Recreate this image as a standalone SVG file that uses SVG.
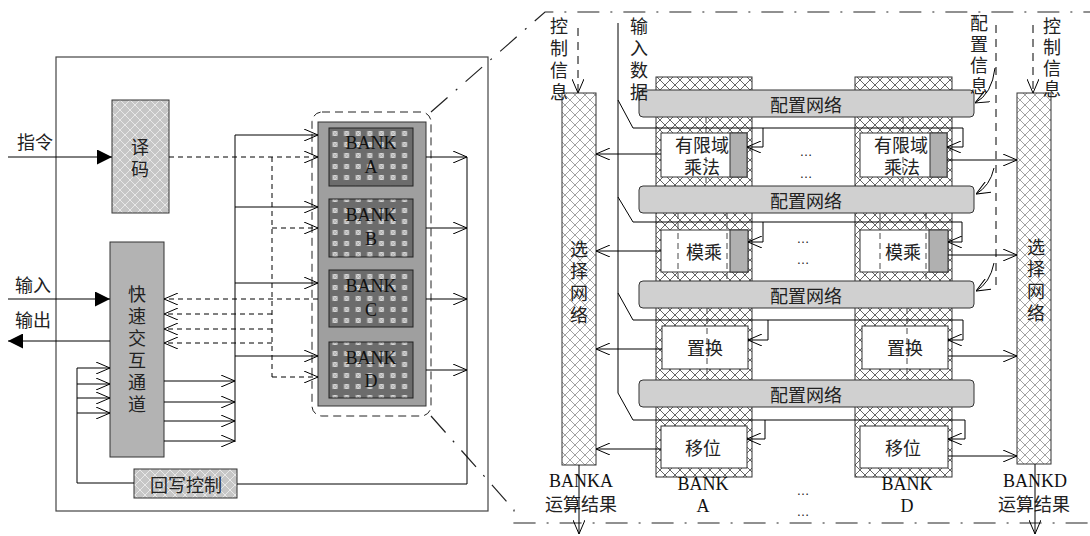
<svg xmlns="http://www.w3.org/2000/svg" width="1090" height="536" viewBox="0 0 1090 536">
<style>
.cn{font-family:"Noto Sans CJK SC","Noto Sans",sans-serif;font-size:18px;fill:#222;text-anchor:middle;dominant-baseline:central}
.en{font-family:"Liberation Serif",serif;font-size:18px;fill:#111;text-anchor:middle}
.ln{fill:none;stroke:#000;stroke-width:1}
.oa{marker-end:url(#oa)}
.fa{marker-end:url(#fa)}
.dsh{stroke-dasharray:5,4}
.dsh2{stroke-dasharray:8,6}
.dd{fill:none;stroke:#222;stroke-width:1.2;stroke-dasharray:22,11,2,11}
.inner{fill:none;stroke:#333;stroke-width:0.9;stroke-dasharray:6,4}
.dots{font-family:"Liberation Sans",sans-serif;font-size:13px;fill:#222;text-anchor:middle}
</style>
<defs>
<marker id="oa" viewBox="0 0 14 12" refX="14" refY="6" markerWidth="14" markerHeight="12" markerUnits="userSpaceOnUse" orient="auto"><path d="M0,0L14,6L0,12" fill="none" stroke="#000" stroke-width="1"/></marker>
<marker id="fa" viewBox="0 0 15 15" refX="15" refY="7.5" markerWidth="15" markerHeight="15" markerUnits="userSpaceOnUse" orient="auto"><path d="M0,0L15,7.5L0,15z" fill="#000"/></marker>
<pattern id="xhLight" width="10" height="10" patternUnits="userSpaceOnUse"><rect width="10" height="10" fill="#fff"/><path d="M0,0L10,10M10,0L0,10" stroke="#8a8a8a" stroke-width="0.8"/></pattern>
<pattern id="xhCol" width="10" height="10" patternUnits="userSpaceOnUse"><rect width="10" height="10" fill="#fff"/><path d="M0,0L10,10M10,0L0,10" stroke="#555" stroke-width="0.9"/></pattern>
<pattern id="xhGray" width="10" height="10" patternUnits="userSpaceOnUse"><rect width="10" height="10" fill="#c6c6c6"/><path d="M0,0L10,10M10,0L0,10" stroke="#e8e8e8" stroke-width="1"/></pattern>
<pattern id="bankDots" x="329" y="128" width="11.6" height="11" patternUnits="userSpaceOnUse"><rect width="11.6" height="11" fill="#6c6c6c"/><rect x="3.5" y="3" width="5" height="5" fill="#d8d8d8"/><path d="M3.5,3L8.5,8M8.5,3L3.5,8" stroke="#888" stroke-width="0.6"/></pattern>
</defs>

<!-- left panel frame -->
<rect x="56" y="57" width="432" height="454" fill="none" stroke="#444" stroke-width="1.2"/>

<!-- zoom border -->
<g id="zoomframe">
<path class="dd" d="M431,112L545,12L1090,12"/>
<path class="dd" d="M431,416L514,510L514,523L1090,523"/>
</g>

<g id="labels-left">
<text class="cn" x="35" y="141">指令</text>
<text class="cn" x="33" y="284">输入</text>
<text class="cn" x="33" y="319">输出</text>
</g>

<g id="decode">
<rect x="112" y="100" width="57" height="113" fill="url(#xhGray)" stroke="#333"/>
<text class="cn" x="140" y="146">译</text>
<text class="cn" x="140" y="168">码</text>
</g>

<g id="fastch">
<rect x="110" y="242" width="54" height="215" fill="#b3b3b3" stroke="#333"/>
<text class="cn" x="137" y="293">快<tspan x="137" dy="22">速</tspan><tspan x="137" dy="22">交</tspan><tspan x="137" dy="22">互</tspan><tspan x="137" dy="22">通</tspan><tspan x="137" dy="22">道</tspan></text>
</g>

<g id="writeback">
<rect x="134" y="469" width="103" height="29" fill="url(#xhGray)" stroke="#333"/>
<text class="cn" x="186" y="484">回写控制</text>
</g>

<g id="bankArray">
<rect x="312" y="112" width="119" height="304" rx="10" fill="none" stroke="#222" stroke-dasharray="8,5"/>
<rect x="318" y="122" width="108" height="284" fill="#9f9f9f" stroke="#333"/>
<g id="bankA"><rect x="329" y="128" width="84" height="58" fill="url(#bankDots)" stroke="#222"/><text class="en" x="371" y="149">BANK</text><text class="en" x="371" y="173">A</text></g>
<g id="bankB"><rect x="329" y="199" width="84" height="58" fill="url(#bankDots)" stroke="#222"/><text class="en" x="371" y="221">BANK</text><text class="en" x="371" y="245">B</text></g>
<g id="bankC"><rect x="329" y="270" width="84" height="57" fill="url(#bankDots)" stroke="#222"/><text class="en" x="371" y="292">BANK</text><text class="en" x="371" y="316">C</text></g>
<g id="bankD"><rect x="329" y="342" width="84" height="56" fill="url(#bankDots)" stroke="#222"/><text class="en" x="371" y="364">BANK</text><text class="en" x="371" y="387">D</text></g>
</g>

<!-- right panel nodes -->
<g id="selLeft">
<rect x="562" y="93" width="34" height="372" fill="url(#xhLight)" stroke="#333"/>
<text class="cn" x="579" y="248">选<tspan x="579" dy="22">择</tspan><tspan x="579" dy="22">网</tspan><tspan x="579" dy="22">络</tspan></text>
</g>
<g id="selRight">
<rect x="1017" y="93" width="34" height="371" fill="url(#xhLight)" stroke="#333"/>
<text class="cn" x="1036" y="246">选<tspan x="1036" dy="22">择</tspan><tspan x="1036" dy="22">网</tspan><tspan x="1036" dy="22">络</tspan></text>
</g>
<g id="colA"><rect x="656" y="77" width="96" height="400" fill="url(#xhCol)" stroke="#333"/></g>
<g id="colD"><rect x="855" y="77" width="97" height="400" fill="url(#xhCol)" stroke="#333"/></g>

<g id="cfg1"><rect x="639" y="90" width="335" height="27" rx="4" fill="#d0d0d0" stroke="#333"/><text class="cn" x="806" y="104">配置网络</text></g>
<g id="cfg2"><rect x="639" y="186" width="335" height="27" rx="4" fill="#d0d0d0" stroke="#333"/><text class="cn" x="806" y="200">配置网络</text></g>
<g id="cfg3"><rect x="639" y="281" width="335" height="27" rx="4" fill="#d0d0d0" stroke="#333"/><text class="cn" x="806" y="295">配置网络</text></g>
<g id="cfg4"><rect x="639" y="380" width="335" height="27" rx="4" fill="#d0d0d0" stroke="#333"/><text class="cn" x="806" y="394">配置网络</text></g>

<g id="gfmulA"><rect x="661" y="133" width="86" height="44" fill="#fff" stroke="#333"/><rect x="730" y="133" width="17" height="44" fill="#b0b0b0" stroke="#333"/><text class="cn" x="702" y="144">有限域</text><text class="cn" x="702" y="166">乘法</text></g>
<g id="gfmulD"><rect x="860" y="133" width="87" height="44" fill="#fff" stroke="#333"/><rect x="930" y="133" width="17" height="44" fill="#b0b0b0" stroke="#333"/><text class="cn" x="901" y="144">有限域</text><text class="cn" x="902" y="166">乘法</text></g>
<g id="modmulA"><rect x="661" y="230" width="87" height="42" fill="#fff" stroke="#333"/><rect x="730" y="230" width="18" height="42" fill="#b0b0b0" stroke="#333"/><text class="cn" x="704" y="251">模乘</text></g>
<g id="modmulD"><rect x="860" y="230" width="88" height="42" fill="#fff" stroke="#333"/><rect x="929" y="230" width="19" height="42" fill="#b0b0b0" stroke="#333"/><text class="cn" x="903" y="251">模乘</text></g>
<g id="permA"><rect x="662" y="326" width="86" height="43" fill="#fff" stroke="#333"/><text class="cn" x="705" y="347">置换</text></g>
<g id="permD"><rect x="862" y="326" width="86" height="43" fill="#fff" stroke="#333"/><text class="cn" x="905" y="347">置换</text></g>
<g id="shiftA"><rect x="661" y="426" width="86" height="42" fill="#fff" stroke="#333"/><text class="cn" x="703" y="447">移位</text></g>
<g id="shiftD"><rect x="860" y="426" width="88" height="42" fill="#fff" stroke="#333"/><text class="cn" x="903" y="447">移位</text></g>

<g id="innerlines">
<path class="inner" d="M706,117V186M903,117V186"/>
<path class="inner" d="M678,213V281M727,213V281M880,213V281M926,213V281"/>
<path class="inner" stroke-dasharray="8,3,2,3" d="M707,308V380M907,308V380"/>
</g>

<g id="labels-right">
<text class="cn" x="559" y="25">控<tspan x="559" dy="22">制</tspan><tspan x="559" dy="22">信</tspan><tspan x="559" dy="22">息</tspan></text>
<text class="cn" x="639" y="25">输<tspan x="639" dy="22">入</tspan><tspan x="639" dy="22">数</tspan><tspan x="639" dy="22">据</tspan></text>
<text class="cn" x="979" y="22">配<tspan x="979" dy="21">置</tspan><tspan x="979" dy="21">信</tspan><tspan x="979" dy="21">息</tspan></text>
<text class="cn" x="1052" y="25">控<tspan x="1052" dy="21">制</tspan><tspan x="1052" dy="21">信</tspan><tspan x="1052" dy="21">息</tspan></text>
<text class="en" x="581" y="487">BANKA</text>
<text class="cn" x="581" y="503">运算结果</text>
<text class="en" x="1035" y="487">BANKD</text>
<text class="cn" x="1034" y="503">运算结果</text>
<text class="en" x="703" y="490">BANK</text>
<text class="en" x="703" y="512">A</text>
<text class="en" x="907" y="490">BANK</text>
<text class="en" x="907" y="512">D</text>
<text class="dots" x="806" y="156">…</text>
<text class="dots" x="806" y="178">…</text>
<text class="dots" x="803" y="243">…</text>
<text class="dots" x="803" y="264">…</text>
<text class="dots" x="803" y="495">…</text>
<text class="dots" x="803" y="516">…</text>
</g>

<g id="connectors">
<!-- left panel inputs/outputs -->
<path class="ln fa" d="M8,157H112"/>
<path class="ln fa" d="M8,299H110"/>
<path class="ln fa" d="M110,341H8"/>
<!-- decode dashed control -->
<path class="ln dsh oa" d="M169,157H318"/>
<path class="ln dsh" d="M272,157V377"/>
<path class="ln dsh oa" d="M272,228H318"/>
<path class="ln dsh oa" d="M272,377H318"/>
<!-- fast channel dashed -->
<path class="ln dsh oa" d="M318,299H164"/>
<path class="ln dsh oa" d="M272,314H164"/>
<path class="ln dsh oa" d="M272,329H164"/>
<path class="ln dsh oa" d="M272,343H164"/>
<!-- fast channel solid to banks -->
<path class="ln" d="M235,135V442"/>
<path class="ln oa" d="M164,381H235"/>
<path class="ln oa" d="M164,402H235"/>
<path class="ln oa" d="M164,421H235"/>
<path class="ln oa" d="M164,441H235"/>
<path class="ln oa" d="M235,135H318"/>
<path class="ln oa" d="M235,207H318"/>
<path class="ln oa" d="M235,283H318"/>
<path class="ln oa" d="M235,356H318"/>
<!-- bank outputs -->
<path class="ln oa" d="M426,157H467"/>
<path class="ln oa" d="M426,228H467"/>
<path class="ln oa" d="M426,299H467"/>
<path class="ln oa" d="M426,370H467"/>
<path class="ln" d="M467,157V484H237"/>
<!-- write back -->
<path class="ln" d="M134,483H77V368"/>
<path class="ln oa" d="M77,368H110"/>
<path class="ln oa" d="M77,384H110"/>
<path class="ln oa" d="M77,398H110"/>
<path class="ln oa" d="M77,413H110"/>

<!-- right panel -->
<path class="ln dsh2 oa" d="M578,28V93"/>
<path class="ln dsh2 oa" d="M1033,25V93"/>
<path class="ln dsh2" d="M996,25V288"/>
<path class="ln oa" d="M995,68Q992,94 975,103"/>
<path class="ln oa" d="M994,168Q990,186 976,194"/>
<path class="ln oa" d="M994,263Q990,283 976,291"/>
<path class="ln oa" d="M579,465V534"/>
<path class="ln oa" d="M1035,464V534"/>
<!-- input data bus -->
<path class="ln" d="M618,23V393L633,420H965"/>
<path class="ln" d="M618,100L633,128H963"/>
<path class="ln" d="M618,197L633,222H962"/>
<path class="ln" d="M618,293L633,320H963"/>
<path class="ln oa" d="M763,128V147H747"/>
<path class="ln oa" d="M963,128V147H947"/>
<path class="ln oa" d="M763,222V242H748"/>
<path class="ln oa" d="M962,222V242H948"/>
<path class="ln oa" d="M768,320V340H748"/>
<path class="ln oa" d="M963,320V340H948"/>
<path class="ln oa" d="M765,420V439H747"/>
<path class="ln oa" d="M965,420V439H948"/>
<!-- unit outputs -->
<path class="ln oa" d="M661,154H596"/>
<path class="ln oa" d="M661,251H596"/>
<path class="ln oa" d="M662,349H596"/>
<path class="ln oa" d="M661,449H596"/>
<path class="ln oa" d="M947,160H1017"/>
<path class="ln oa" d="M948,255H1017"/>
<path class="ln oa" d="M948,356H1017"/>
<path class="ln oa" d="M948,456H1017"/>
</g>
</svg>
